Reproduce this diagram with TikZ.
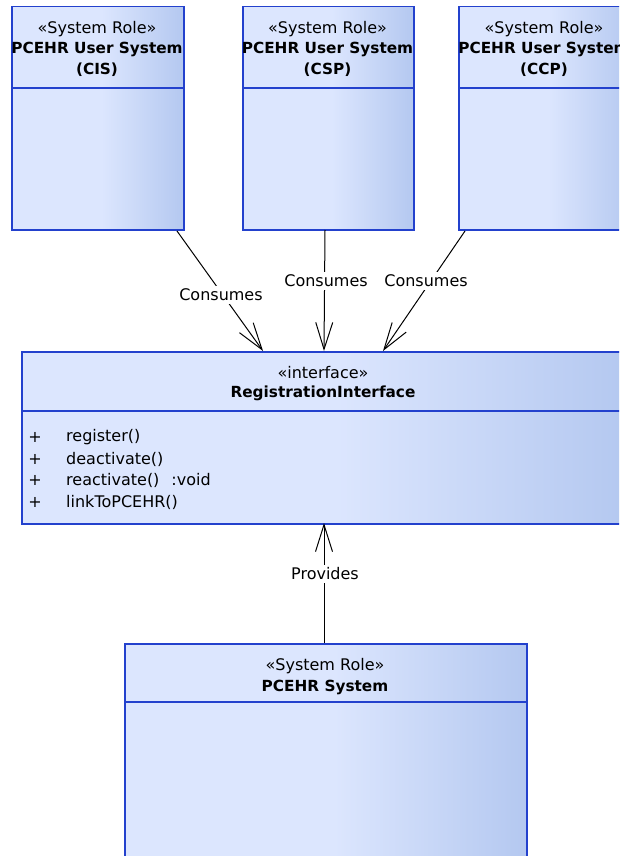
\documentclass[tikz,border=0pt]{standalone}
\usepackage{fontspec}
\setmainfont{DejaVu Sans}
\usetikzlibrary{arrows.meta,calc}
\definecolor{boxlt}{RGB}{220,230,254}
\definecolor{boxdk}{RGB}{180,200,240}
\definecolor{boxline}{RGB}{35,65,205}
\pgfdeclarehorizontalshading{umlshade}{100bp}{color(0bp)=(boxlt); color(25bp)=(boxlt); color(51bp)=(boxlt); color(75bp)=(boxdk); color(100bp)=(boxdk)}
\tikzset{
  umlbox/.style={rectangle, draw=boxline, line width=1.5pt, shading=umlshade, anchor=north west, inner sep=0pt},
  sepline/.style={draw=boxline, line width=1.5pt},
  txt/.style={font=\fontsize{16}{19}\selectfont, inner sep=0pt},
  btxt/.style={font=\fontsize{15.3}{18}\selectfont\bfseries, inner sep=0pt},
  lbl/.style={font=\fontsize{16}{19}\selectfont, fill=white, inner sep=3pt},
  conn/.style={draw=black, line width=1pt, -{Straight Barb[length=27pt,width=17pt,line width=1pt]}},
}
\begin{document}
\begin{tikzpicture}[x=1pt,y=-1pt]
\useasboundingbox (0,0) rectangle (619,856);
\fill[white] (0,0) rectangle (619,856);
\clip (0,0) rectangle (619,856);

% top boxes
\node[umlbox, minimum width=172, minimum height=223] (cis) at (11,6) {};
\draw[sepline] (11,88) -- (183,88);
\node[txt] (cisst) at (97,29) {«System Role»};
\node[btxt] (cisn1) at (97,49) {PCEHR User System};
\node[btxt] (cisn2) at (97,70) {(CIS)};

\node[umlbox, minimum width=171, minimum height=223] (csp) at (242,6) {};
\draw[sepline] (242,88) -- (413,88);
\node[txt] (cspst) at (327.5,29) {«System Role»};
\node[btxt] (cspn1) at (327.5,49) {PCEHR User System};
\node[btxt] (cspn2) at (327.5,70) {(CSP)};

\node[umlbox, minimum width=172, minimum height=223] (ccp) at (458,6) {};
\draw[sepline] (458,88) -- (630,88);
\node[txt] (ccpst) at (544,29) {«System Role»};
\node[btxt] (ccpn1) at (544,49) {PCEHR User System};
\node[btxt] (ccpn2) at (544,70) {(CCP)};

% interface
\node[umlbox, minimum width=604, minimum height=172] (iface) at (21,351) {};
\draw[sepline] (21,411) -- (625,411);
\node[txt] (ifst) at (323,373) {«interface»};
\node[btxt] (ifn) at (323,393) {RegistrationInterface};
\node[txt] (p1) at (35,437) {+};
\node[txt] (p2) at (35,459) {+};
\node[txt] (p3) at (35,480) {+};
\node[txt] (p4) at (35,502) {+};
\node[txt, anchor=west] (m1) at (66,437) {register()};
\node[txt, anchor=west] (m2) at (66,459) {deactivate()};
\node[txt, anchor=west] (m3) at (66,480) {reactivate()\hspace{12pt}:void};
\node[txt, anchor=west] (m4) at (66,502) {linkToPCEHR()};

% bottom box
\node[umlbox, minimum width=402, minimum height=260] (sys) at (124,643) {};
\draw[sepline] (124,702) -- (526,702);
\node[txt] (sysst) at (325,666) {«System Role»};
\node[btxt] (sysn) at (325,687) {PCEHR System};

% connectors
\coordinate (c1s) at (177,231);
\coordinate (c1e) at (263,351);
\coordinate (c2s) at (325,230);
\coordinate (c2e) at (324,351);
\coordinate (c3s) at (465,231);
\coordinate (c3e) at (383,351);
\coordinate (c4s) at (324,643);
\coordinate (c4e) at (324,523);
\draw[conn] (c1s) -- (c1e);
\draw[conn] (c2s) -- (c2e);
\draw[conn] (c3s) -- (c3e);
\draw[conn] (c4s) -- (c4e);
\node[lbl] (l1) at (221,295) {Consumes};
\node[lbl] (l2) at (326,281) {Consumes};
\node[lbl] (l3) at (426,281) {Consumes};
\node[lbl] (l4) at (325,574) {Provides};
\end{tikzpicture}
\end{document}
